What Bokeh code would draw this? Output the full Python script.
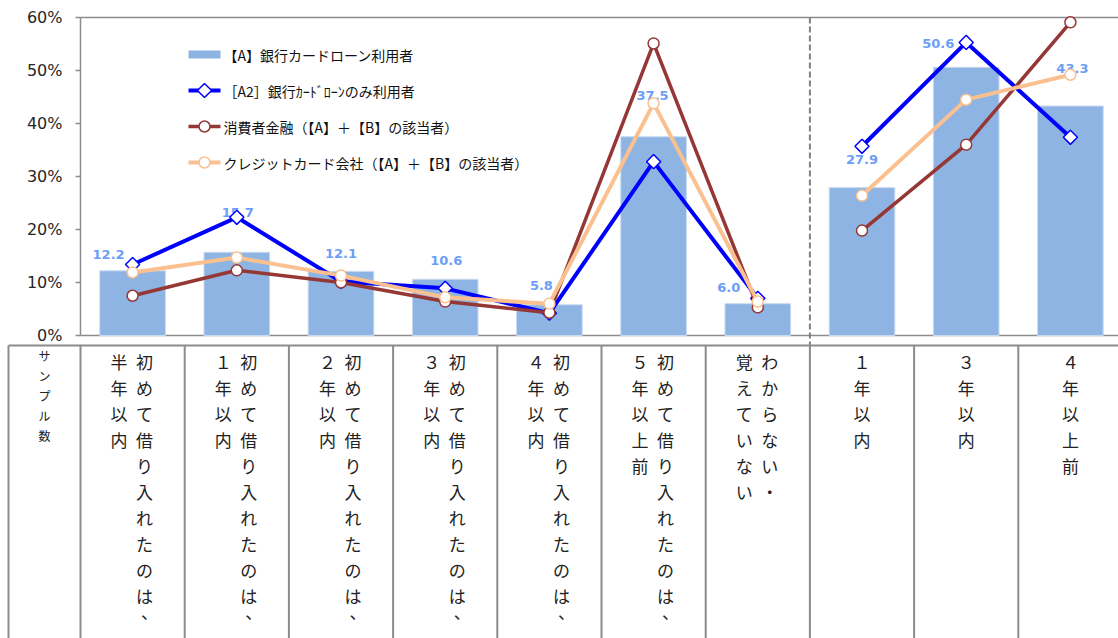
import numpy as np
from bokeh.plotting import figure
from bokeh.models import ColumnDataSource, Range1d
from bokeh.core.properties import value
from bokeh.embed import file_html
from bokeh.resources import INLINE

# ---- data -------------------------------------------------------------
# Category labels, written as vertical columns (listed right-to-left)
category_columns = [
    ["初めて借り入れたのは、", "半年以内"],
    ["初めて借り入れたのは、", "１年以内"],
    ["初めて借り入れたのは、", "２年以内"],
    ["初めて借り入れたのは、", "３年以内"],
    ["初めて借り入れたのは、", "４年以内"],
    ["初めて借り入れたのは、", "５年以上前"],
    ["わからない・", "覚えていない"],
    ["１年以内"],
    ["３年以内"],
    ["４年以上前"],
]
sample_header = "サンプル数"
# the categories form two groups; lines are not joined across the divider
group_sizes = [7, 3]

# Shares in percent
bank_card_users = [12.2, 15.7, 12.1, 10.6, 5.8, 37.5, 6.0, 27.9, 50.6, 43.3]
bank_card_only = [13.4, 22.3, 10.2, 8.9, 4.2, 32.8, 7.0, 35.7, 55.3, 37.4]
consumer_finance = [7.5, 12.3, 10.0, 6.4, 4.3, 55.1, 5.3, 19.8, 36.0, 59.1]
credit_card_co = [11.9, 14.7, 11.3, 7.2, 6.0, 43.8, 6.4, 26.4, 44.5, 49.2]

series_names = [
    "【A】銀行カードローン利用者",
    "［A2］銀行ｶｰﾄﾞﾛｰﾝのみ利用者",
    "消費者金融（【A】＋【B】の該当者）",
    "クレジットカード会社（【A】＋【B】の該当者）",
]

y_ticks = [0, 10, 20, 30, 40, 50, 60]
y_tick_labels = ["0%", "10%", "20%", "30%", "40%", "50%", "60%"]

# ---- styling / page geometry -------------------------------------------
BAR = "#8EB4E3"
BLUE = "#0000FF"
RED = "#953735"
ORANGE = "#FAC090"
RULE = "#8c8c8c"
LABEL_BLUE = "#6C9EF8"
INK = "#222222"
JP = "Noto Sans CJK JP"

W, H = 1118, 638
LEFT = 80            # left edge of the plotting area (px)
TOP = 17             # 60% line (px)
BOTTOM = 335         # 0% line (px)
PITCH = 104.2        # px per category
PX_PER_PCT = (BOTTOM - TOP) / 60.0
TABLE_TOP = 345


def xv(px):
    """page x pixel -> category coordinate"""
    return (px - LEFT) / PITCH - 0.5


def yv(py):
    """page y pixel -> percent coordinate"""
    return 60 - (py - TOP) / PX_PER_PCT


# pixel nudges for the value labels on the bars
label_dx = [-24, 1, 0, 1, -8, -1, -29, 0, -28, 2]
label_dy = [-16, -40, -18, -19, -19, -41, -16, -28, -24, -38]

x = list(range(len(bank_card_users)))
x_end = xv(W)
divider = group_sizes[0] - 0.5

p = figure(frame_width=W, frame_height=H, min_border=0,
           x_range=Range1d(xv(0), x_end), y_range=Range1d(yv(H), yv(0)),
           x_axis_location=None, y_axis_location=None,
           output_backend="svg", toolbar_location=None,
           outline_line_color=None)
p.grid.grid_line_color = None

# ---- value axis ---------------------------------------------------------
p.segment(x0=[-0.5], y0=[0], x1=[-0.5], y1=[60], line_color=RULE, line_width=1.5)
p.segment(x0=[xv(LEFT - 5)] * len(y_ticks), y0=y_ticks,
          x1=[-0.5] * len(y_ticks), y1=y_ticks, line_color=RULE, line_width=1.5)
p.text(x=[xv(62)] * len(y_ticks), y=y_ticks, text=y_tick_labels,
       text_font=value("DejaVu Sans"), text_font_size="16px",
       text_color="#262626", text_align="right", text_baseline="middle")
# top and bottom rules of the plotting area
p.segment(x0=[-0.5, -0.5], y0=[0, 60], x1=[x_end, x_end], y1=[0, 60],
          line_color=RULE, line_width=1.5)
# divider between the two groups of categories
p.segment(x0=[divider], y0=[60], x1=[divider], y1=[yv(TABLE_TOP)],
          line_color="#808080", line_width=2, line_dash="6 3")

# ---- bars, value labels, lines ------------------------------------------
p.vbar(x=x, top=bank_card_users, width=0.63, fill_color=BAR,
       line_color="#C9DAF0", line_width=1)

lab_src = ColumnDataSource(dict(
    x=x, y=bank_card_users,
    text=[f"{v:.1f}" for v in bank_card_users],
    dx=label_dx, dy=label_dy))
p.text(x="x", y="y", text="text", x_offset="dx", y_offset="dy",
       source=lab_src, text_font=value("DejaVu Sans"),
       text_font_style="bold", text_font_size="13px",
       text_color=LABEL_BLUE, text_align="center", text_baseline="middle")

line_series = [
    (bank_card_only, BLUE, 4, "square", np.pi / 4, 10),
    (consumer_finance, RED, 3.5, "circle", 0, 11),
    (credit_card_co, ORANGE, 4, "circle", 0, 11),
]
for vals, col, lw, mk, ang, sz in line_series:
    start = 0
    for n in group_sizes:
        p.line(x[start:start + n], vals[start:start + n],
               line_color=col, line_width=lw)
        start += n
    p.scatter(x, vals, marker=mk, angle=ang, size=sz,
              fill_color="white", line_color=col, line_width=1.5)

# ---- legend -------------------------------------------------------------
row_py = [54, 90, 126, 162]
key_x0, key_x1 = xv(188), xv(220)
key_mid = xv(204)
p.quad(left=[key_x0], right=[key_x1], top=[yv(row_py[0] - 4)],
       bottom=[yv(row_py[0] + 4)], fill_color=BAR, line_color=None)
for py, (_, col, lw, mk, ang, sz) in zip(row_py[1:], line_series):
    p.segment(x0=[key_x0], y0=[yv(py)], x1=[key_x1], y1=[yv(py)],
              line_color=col, line_width=lw)
    p.scatter([key_mid], [yv(py)], marker=mk, angle=ang, size=sz,
              fill_color="white", line_color=col, line_width=1.5)
p.text(x=[xv(223)] * 4, y=[yv(py) for py in row_py], text=series_names,
       text_font=value(JP), text_font_size="14px", text_color="#111111",
       text_align="left", text_baseline="middle")

# ---- category table -----------------------------------------------------
left_edge = xv(8)
bounds = [left_edge] + [i - 0.5 for i in range(len(x) + 1)]
p.segment(x0=bounds, y0=[yv(TABLE_TOP)] * len(bounds), x1=bounds,
          y1=[yv(H)] * len(bounds), line_color=RULE, line_width=2)
p.segment(x0=[left_edge], y0=[yv(TABLE_TOP)], x1=[x_end], y1=[yv(TABLE_TOP)],
          line_color=RULE, line_width=2)

cx, cy, ct = [], [], []
for i, cols in enumerate(category_columns):
    offs = [12, -13.5] if len(cols) == 2 else [0]
    for col, off in zip(cols, offs):
        for r, ch in enumerate(col):
            dx, py = off, 361 + 26 * r
            if ch == "、":
                dx, py = dx + 5, py - 10
            cx.append(i + dx / PITCH)
            cy.append(yv(py))
            ct.append(ch)
p.text(x=cx, y=cy, text=ct, text_font=value(JP), text_font_size="17px",
       text_color=INK, text_align="center", text_baseline="middle")

hx = [xv(44)] * len(sample_header)
hy = [yv(355 + 20 * r) for r in range(len(sample_header))]
p.text(x=hx, y=hy, text=list(sample_header), text_font=value(JP),
       text_font_size="12px", text_color=INK,
       text_align="center", text_baseline="middle")

open("out.html", "w").write(file_html(p, INLINE))
